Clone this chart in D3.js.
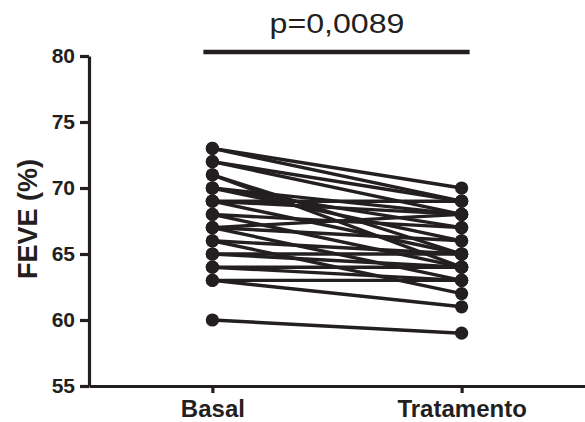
<!DOCTYPE html>
<html>
<head>
<meta charset="utf-8">
<script src="https://cdn.jsdelivr.net/npm/d3@7"></script>
<style>
  body { margin: 0; background: #fff; overflow: hidden; }
  svg { display: block; }
</style>
</head>
<body>
<div class="chart_Container"></div>
<script>
// paired FEVE values, one entry per patient
const groups = ['Basal', 'Tratamento'];
const basal      = [73, 73, 72, 72, 71, 71, 70, 70, 70, 69, 69, 69, 68, 68, 67, 67, 67, 66, 66, 65, 65, 64, 64, 63, 63, 60];
const tratamento = [70, 69, 69, 68, 65, 64, 68, 67, 66, 69, 68, 65, 67, 64, 68, 66, 63, 65, 62, 65, 64, 64, 63, 63, 61, 59];
const yTicks = [55, 60, 65, 70, 75, 80];
const pLabel = 'p=0,0089';

const W = 585, H = 422;
const margin = ({top: 56, bottom: 36, left: 89, right: 0});
const ink = '#231f20';

const svg = d3.select('.chart_Container')
  .append('svg')
  .attr('width', W)
  .attr('height', H);

const x = d3.scalePoint()
  .domain(groups)
  .range([margin.left, W - margin.right])
  .padding(0.495);

const y = d3.scaleLinear()
  .domain([55, 80])
  .range([H - margin.bottom, margin.top]);

// lines first, dots on top
const pairs = basal.map((b, i) => [b, tratamento[i]]);

svg.append('g')
  .selectAll('line')
  .data(pairs)
  .join('line')
  .attr('x1', x('Basal'))
  .attr('x2', x('Tratamento'))
  .attr('y1', d => y(d[0]))
  .attr('y2', d => y(d[1]))
  .attr('stroke', ink)
  .attr('stroke-width', 3.4);

svg.append('g')
  .selectAll('circle')
  .data(pairs.flatMap(d => [[groups[0], d[0]], [groups[1], d[1]]]))
  .join('circle')
  .attr('cx', d => x(d[0]))
  .attr('cy', d => y(d[1]))
  .attr('r', 6.6)
  .attr('fill', ink);

// y axis
const yAxis = svg.append('g')
  .attr('transform', `translate(${margin.left},0)`)
  .call(d3.axisLeft(y).tickValues(yTicks).tickSize(9).tickSizeOuter(0).tickPadding(5));

// x axis
const xAxis = svg.append('g')
  .attr('transform', `translate(0,${H - margin.bottom})`)
  .call(d3.axisBottom(x).tickSize(7).tickSizeOuter(0).tickPadding(7));

[yAxis, xAxis].forEach(g => {
  g.select('.domain').attr('stroke', ink).attr('stroke-width', 3.2);
  g.selectAll('.tick line').attr('stroke', ink).attr('stroke-width', 3.2);
  g.selectAll('.tick text')
    .attr('fill', ink)
    .attr('font-family', 'Liberation Sans, Arial, sans-serif')
    .attr('font-weight', 'bold');
});
yAxis.selectAll('.tick text').attr('font-size', 21);
xAxis.selectAll('.tick text').attr('font-size', 24);

// axis title
svg.append('text')
  .attr('transform', `translate(37,${(y(55) + y(80)) / 2 - 2}) rotate(-90)`)
  .attr('text-anchor', 'middle')
  .attr('font-family', 'Liberation Sans, Arial, sans-serif')
  .attr('font-weight', 'bold')
  .attr('font-size', 27)
  .attr('fill', ink)
  .text('FEVE (%)');

// significance bar + p value
const barY = y(80) - 4;
svg.append('line')
  .attr('x1', x('Basal') - 9)
  .attr('x2', x('Tratamento') + 8)
  .attr('y1', barY)
  .attr('y2', barY)
  .attr('stroke', ink)
  .attr('stroke-width', 4.5);

svg.append('text')
  .attr('x', (x('Basal') + x('Tratamento')) / 2)
  .attr('y', barY - 19)
  .attr('text-anchor', 'middle')
  .attr('font-family', 'Liberation Sans, Arial, sans-serif')
  .attr('font-size', 27)
  .attr('textLength', 135)
  .attr('lengthAdjust', 'spacingAndGlyphs')
  .attr('fill', ink)
  .text(pLabel);
</script>
</body>
</html>
